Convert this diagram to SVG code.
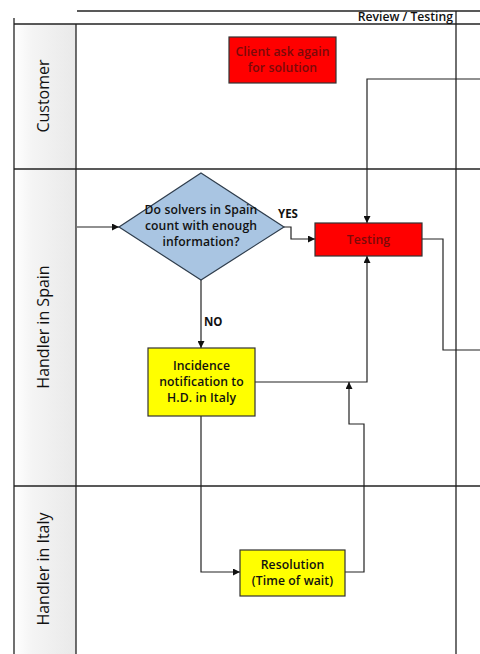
<svg xmlns="http://www.w3.org/2000/svg" width="480" height="654" viewBox="0 0 480 654">
  <defs>
    <linearGradient id="laneHead" x1="0" y1="0" x2="1" y2="0">
      <stop offset="0" stop-color="#ffffff"/>
      <stop offset="0.3" stop-color="#f4f4f4"/>
      <stop offset="1" stop-color="#e9e9e9"/>
    </linearGradient>
    <marker id="arrow" viewBox="0 0 10 10" refX="10" refY="5" markerWidth="7" markerHeight="7" markerUnits="userSpaceOnUse" orient="auto">
      <path d="M0,0 L10,5 L0,10 z" fill="#111"/>
    </marker>
  </defs>
  <style>
    .frame { stroke: #222; stroke-width: 1.3; fill: none; }
    .lane-label { font-family: "Open Sans", "Liberation Sans", sans-serif; font-size: 16px; fill: #111; text-anchor: middle; }
    .box-text { font-family: "Open Sans", "Liberation Sans", sans-serif; font-size: 12.2px; font-weight: 600; text-anchor: middle; letter-spacing: 0.1px; }
    .conn { stroke: #222; stroke-width: 1.2; fill: none; }
    .tag { font-family: "Open Sans", "Liberation Sans", sans-serif; font-size: 11.5px; font-weight: 700; fill: #111; }
  </style>
  <rect width="480" height="654" fill="#ffffff"/>

  <!-- swimlane frame -->
  <g id="lanes">
    <rect x="14" y="24" width="62" height="630" fill="url(#laneHead)"/>
    <line class="frame" x1="77" y1="11" x2="480" y2="11"/>
    <line class="frame" x1="14" y1="24" x2="480" y2="24"/>
    <line class="frame" x1="14" y1="18" x2="14" y2="654"/>
    <line class="frame" x1="76" y1="24" x2="76" y2="654"/>
    <line class="frame" x1="456" y1="11" x2="456" y2="654"/>
    <line class="frame" x1="14" y1="169" x2="480" y2="169"/>
    <line class="frame" x1="14" y1="486" x2="480" y2="486"/>
    <text x="453" y="21" font-family="Open Sans, Liberation Sans, sans-serif" font-size="12.2" font-weight="600" fill="#111" text-anchor="end">Review / Testing</text>
    <text class="lane-label" transform="translate(49,96) rotate(-90)">Customer</text>
    <text class="lane-label" transform="translate(49,327) rotate(-90)">Handler in Spain</text>
    <text class="lane-label" transform="translate(49,569) rotate(-90)">Handler in Italy</text>
  </g>

  <!-- connectors -->
  <g id="connectors">
    <path class="conn" d="M77,227 H119" marker-end="url(#arrow)"/>
    <path class="conn" d="M284,227 H291 V239 H315" marker-end="url(#arrow)"/>
    <path class="conn" d="M480,79 H367 V223" marker-end="url(#arrow)"/>
    <path class="conn" d="M422,239 H443 V350 H480"/>
    <path class="conn" d="M201,280 V348" marker-end="url(#arrow)"/>
    <path class="conn" d="M255,382 H367 V256" marker-end="url(#arrow)"/>
    <path class="conn" d="M201,416 V572 H240" marker-end="url(#arrow)"/>
    <path class="conn" d="M345,572 H364 V424 H349 V382" marker-end="url(#arrow)"/>
    <text class="tag" x="278" y="218">YES</text>
    <text class="tag" x="204" y="326">NO</text>
  </g>

  <g id="client-ask">
    <rect x="229" y="37" width="107" height="46" fill="#ff0000" stroke="#333" stroke-width="1.2"/>
    <text class="box-text" x="282.5" y="56" fill="#7a0a0a">Client ask again</text>
    <text class="box-text" x="282.5" y="72" fill="#7a0a0a">for solution</text>
  </g>

  <g id="decision">
    <polygon points="201,173 284,227 201,280 119,227" fill="#a9c5e2" stroke="#2f3d4c" stroke-width="1.2"/>
    <text class="box-text" x="201" y="214" fill="#111">Do solvers in Spain</text>
    <text class="box-text" x="201" y="230" fill="#111">count with enough</text>
    <text class="box-text" x="201" y="246" fill="#111">information?</text>
  </g>

  <g id="testing">
    <rect x="315" y="223" width="107" height="33" fill="#ff0000" stroke="#333" stroke-width="1.2"/>
    <text class="box-text" x="368.5" y="244" fill="#7a0a0a">Testing</text>
  </g>

  <g id="incidence">
    <rect x="148" y="348" width="107" height="68" fill="#ffff00" stroke="#333" stroke-width="1.2"/>
    <text class="box-text" x="201.5" y="370" fill="#111">Incidence</text>
    <text class="box-text" x="201.5" y="386" fill="#111">notification to</text>
    <text class="box-text" x="201.5" y="402" fill="#111">H.D. in Italy</text>
  </g>

  <g id="resolution">
    <rect x="240" y="550" width="105" height="46" fill="#ffff00" stroke="#333" stroke-width="1.2"/>
    <text class="box-text" x="292.5" y="569" fill="#111">Resolution</text>
    <text class="box-text" x="292.5" y="585" fill="#111">(Time of wait)</text>
  </g>
</svg>
